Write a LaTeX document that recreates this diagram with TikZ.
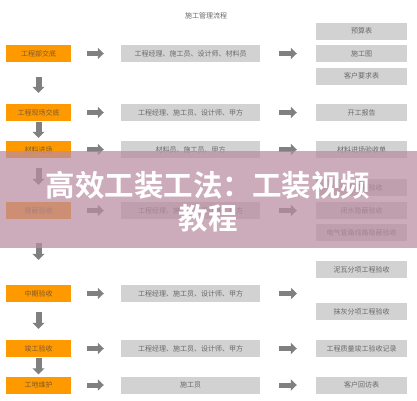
\documentclass[tikz,border=0pt]{standalone}
\usepackage{fontspec}
\setmainfont{Noto Sans CJK SC}[BoldFont={Noto Sans CJK SC Bold}]
\usetikzlibrary{arrows.meta}
\definecolor{orangebox}{RGB}{255,153,0}
\definecolor{graybox}{RGB}{210,210,210}
\definecolor{arrowgray}{RGB}{128,128,128}
\definecolor{graytext}{RGB}{105,105,105}
\definecolor{stagetext}{RGB}{125,90,45}
\definecolor{veil}{RGB}{185,140,160}
\tikzset{
  boxtext/.style={font=\fontsize{7}{8}\selectfont, inner sep=0pt, minimum height=17pt},
  stagebox/.style={boxtext, fill=orangebox, text=stagetext, minimum width=65pt},
  whobox/.style={boxtext, fill=graybox, text=graytext, minimum width=139pt},
  docbox/.style={boxtext, fill=graybox, text=graytext, minimum width=91pt},
  flowright/.style={draw=arrowgray, line width=5pt, -{Triangle[width=11pt,length=6pt]}},
  flowdown/.style={draw=arrowgray, line width=6pt, -{Triangle[width=12pt,length=6pt]}},
}
\begin{document}
\begin{tikzpicture}[x=1pt,y=-1pt]
\useasboundingbox (0,0) rectangle (417,400);
\fill[white] (0,0) rectangle (417,400);

\node[font=\fontsize{7}{8}\selectfont, text=graytext] (title) at (206,16) {施工管理流程};

% stages
\node[stagebox] (o1) at (38.5,53.5) {工程部交底};
\node[stagebox] (o2) at (38.5,112.5) {工程现场交底};
\node[stagebox] (o3) at (38.5,149.5) {材料进场};
\node[stagebox] (o4) at (38.5,210.5) {隐蔽验收};
\node[stagebox] (o5) at (38.5,293.5) {中期验收};
\node[stagebox] (o6) at (38.5,348.5) {竣工验收};
\node[stagebox] (o7) at (38.5,385) {工地维护};

% people
\node[whobox] (g1) at (190.5,53.5) {工程经理、施工员、设计师、材料员};
\node[whobox] (g2) at (190.5,112.5) {工程经理、施工员、设计师、甲方};
\node[whobox] (g3) at (190.5,149.5) {材料员、施工员、甲方};
\node[whobox] (g4) at (190.5,210.5) {工程经理、施工员、设计师、甲方};
\node[whobox] (g5) at (190.5,293.5) {工程经理、施工员、设计师、甲方};
\node[whobox] (g6) at (190.5,348.5) {工程经理、施工员、设计师、甲方};
\node[whobox] (g7) at (190.5,385) {施工员};

% documents
\node[docbox] (d1a) at (361.5,31) {预算表};
\node[docbox] (d1b) at (361.5,53.5) {施工图};
\node[docbox] (d1c) at (361.5,76) {客户要求表};
\node[docbox] (d2) at (361.5,112.5) {开工报告};
\node[docbox] (d3) at (361.5,149.5) {材料进场验收单};
\node[docbox] (d4a) at (361.5,187.5) {水电隐蔽验收};
\node[docbox] (d4b) at (361.5,210.5) {闭水隐蔽验收};
\node[docbox] (d4c) at (361.5,232.5) {电气管路线路隐蔽验收};
\node[docbox] (d5a) at (361.5,269.5) {泥瓦分项工程验收};
\node[docbox] (d5b) at (361.5,311.5) {抹灰分项工程验收};
\node[docbox] (d6) at (361.5,348.5) {工程质量竣工验收记录};
\node[docbox] (d7) at (361.5,385) {客户回访表};
\coordinate (d5in) at (316,293.5);

% arrows stage -> people
\foreach \i in {1,...,7}{
  \draw[flowright, shorten <=16pt, shorten >=17pt] (o\i) -- (g\i);
}
% arrows people -> documents
\draw[flowright, shorten <=19pt, shorten >=19pt] (g1) -- (d1b);
\draw[flowright, shorten <=19pt, shorten >=19pt] (g2) -- (d2);
\draw[flowright, shorten <=19pt, shorten >=19pt] (g3) -- (d3);
\draw[flowright, shorten <=19pt, shorten >=19pt] (g4) -- (d4b);
\draw[flowright, shorten <=19pt, shorten >=19pt] (g5) -- (d5in);
\draw[flowright, shorten <=19pt, shorten >=19pt] (g6) -- (d6);
\draw[flowright, shorten <=19pt, shorten >=19pt] (g7) -- (d7);

% arrows down
\draw[flowdown, shorten <=15pt, shorten >=11pt] (o1) -- (o2);
\draw[flowdown, shorten <=1pt, shorten >=3pt] (o2) -- (o3);
\draw[flowdown, shorten <=10pt, shorten >=17pt] (o3) -- (o4);
\draw[flowdown, shorten <=24pt, shorten >=25pt] (o4) -- (o5);
\draw[flowdown, shorten <=10pt, shorten >=11pt] (o5) -- (o6);
\draw[flowdown, shorten <=1pt, shorten >=2pt] (o6) -- (o7);

% veil band
\fill[veil, opacity=0.72] (0,151) rectangle (417,248);
\node[text=white, font=\bfseries\fontsize{29.5}{33}\selectfont, align=center, inner sep=0pt] (banner) at (208,201.5) {高效工装工法：工装视频\\教程};
\end{tikzpicture}
\end{document}
